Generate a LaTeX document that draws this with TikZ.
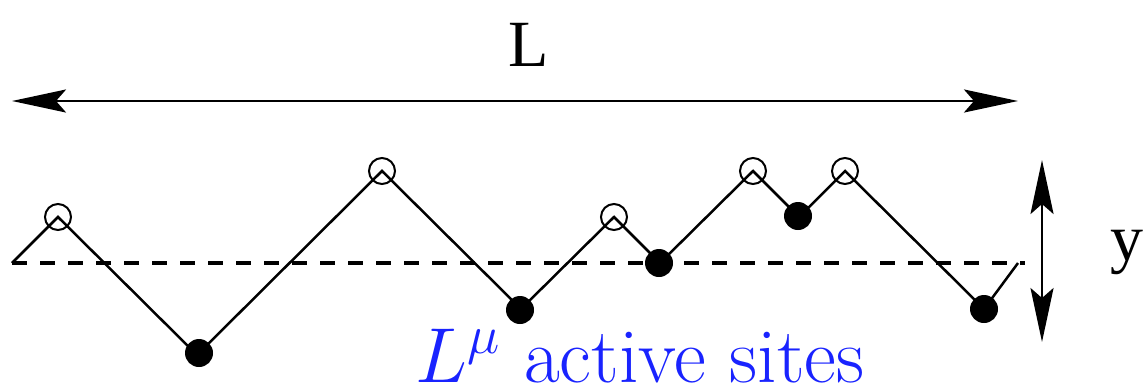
\RequirePackage{fix-cm}
\documentclass[tikz,border=0pt]{standalone}
\usepackage{fontspec}
\newfontfamily\timesfont{Liberation Serif}
\usetikzlibrary{arrows.meta}
\begin{document}
\begin{tikzpicture}[x=0.5pt,y=-0.5pt,
  zig/.style={line width=1.25pt},
  opensite/.style={circle,draw,line width=1pt,minimum size=13pt,inner sep=0pt},
  activesite/.style={circle,fill,minimum size=14pt,inner sep=0pt},
  dimarrow/.style={line width=1.3pt,{Stealth[length=27pt,width=11.5pt,inset=5pt]}-{Stealth[length=27pt,width=11.5pt,inset=5pt]}},
  reference/.style={line width=1.6pt,dash pattern=on 7.5pt off 6.5pt},
  biglabel/.style={font=\timesfont\fontsize{33}{38}\selectfont,inner sep=0pt}]
\useasboundingbox (0,0) rectangle (1143,391);
% vertices
\coordinate (v0) at (12,263);
\coordinate (v1) at (58,217);
\coordinate (v2) at (197,355);
\coordinate (v3) at (382,171);
\coordinate (v4) at (521,309);
\coordinate (v5) at (614,217);
\coordinate (v6) at (660,263);
\coordinate (v7) at (753,171);
\coordinate (v8) at (799,217);
\coordinate (v9) at (845,171);
\coordinate (v10) at (984,309);
\coordinate (v11) at (1018,263);
\coordinate (d1) at (1025,263);
% reference line
\draw[reference] (v0) -- (d1);
% interface
\draw[zig] (v0) -- (v1) -- (v2) -- (v3) -- (v4) -- (v5) -- (v6) -- (v7) -- (v8) -- (v9) -- (v10) -- (v11);
% sites
\node[opensite] (o1) at (v1) {};
\node[opensite] (o3) at (v3) {};
\node[opensite] (o5) at (v5) {};
\node[opensite] (o7) at (v7) {};
\node[opensite] (o9) at (v9) {};
\node[activesite] (a2) at (199,353) {};
\node[activesite] (a4) at (520,310) {};
\node[activesite] (a6) at (659,263) {};
\node[activesite] (a8) at (798,216) {};
\node[activesite] (a10) at (984,309) {};
% dimension arrows
\coordinate (la) at (12,101);
\coordinate (lb) at (1018,101);
\draw[dimarrow] (la) -- (lb);
\coordinate (ya) at (1042,160);
\coordinate (yb) at (1042,342);
\draw[dimarrow] (ya) -- (yb);
% labels
\node[biglabel,anchor=base] (Llab) at (529,66) {L};
\node[biglabel,anchor=base west] (ylab) at (1110,260) {y};
\node[anchor=base west,inner sep=0pt,text={rgb,255:red,25;green,35;blue,255},font=\fontsize{39}{45}\selectfont] (act) at (415,382) {$L^{\mu}$ active sites};
\end{tikzpicture}
\end{document}
